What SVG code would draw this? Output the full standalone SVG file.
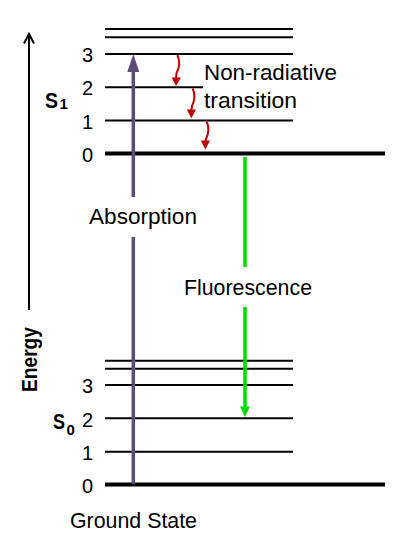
<svg xmlns="http://www.w3.org/2000/svg" width="396" height="548" viewBox="0 0 396 548">
<style>
.t{font-family:"Liberation Sans",Arial,sans-serif;font-size:22px;fill:#000}
.n{font-family:"Liberation Sans",Arial,sans-serif;font-size:20px;fill:#000;text-anchor:end}
.b{font-family:"Liberation Sans",Arial,sans-serif;font-weight:bold;fill:#000}
.lv{stroke:#000;stroke-width:2;fill:none}
.lt{stroke:#000;stroke-width:4;fill:none}
.red{stroke:#C00000;stroke-width:2;fill:none}
</style>
<rect width="396" height="548" fill="#fff"/>
<g id="energy-axis">
  <line x1="29" y1="34" x2="29" y2="310" stroke="#000" stroke-width="2"/>
  <polyline points="24,43.5 29,34 34,43.5" stroke="#000" stroke-width="2" fill="none"/>
  <text class="b" font-size="22" transform="translate(36.5,392) rotate(-90)" textLength="65" lengthAdjust="spacingAndGlyphs">Energy</text>
</g>
<g id="S1">
  <line class="lv" x1="105" y1="29" x2="293" y2="29"/>
  <line class="lv" x1="105" y1="37.3" x2="293" y2="37.3"/>
  <line class="lv" x1="105" y1="54" x2="293" y2="54"/>
  <line class="lv" x1="105" y1="87.3" x2="203" y2="87.3"/>
  <line class="lv" x1="105" y1="120.5" x2="293" y2="120.5"/>
  <line class="lt" x1="105" y1="153.5" x2="385" y2="153.5"/>
  <text class="n" x="93" y="62">3</text>
  <text class="n" x="93" y="95.3">2</text>
  <text class="n" x="93" y="128.5">1</text>
  <text class="n" x="93" y="162">0</text>
  <text class="b" font-size="22" x="45" y="107.5" textLength="13" lengthAdjust="spacingAndGlyphs">S</text>
  <text class="b" font-size="15" x="59.5" y="108.5" font-weight="normal">1</text>
</g>
<g id="S0">
  <line class="lv" x1="105" y1="360.7" x2="293" y2="360.7"/>
  <line class="lv" x1="105" y1="368.7" x2="293" y2="368.7"/>
  <line class="lv" x1="105" y1="385" x2="293" y2="385"/>
  <line class="lv" x1="105" y1="418.3" x2="293" y2="418.3"/>
  <line class="lv" x1="105" y1="451.7" x2="293" y2="451.7"/>
  <line class="lt" x1="105" y1="484.5" x2="385" y2="484.5"/>
  <text class="n" x="93" y="393">3</text>
  <text class="n" x="93" y="426.5">2</text>
  <text class="n" x="93" y="459.5">1</text>
  <text class="n" x="93" y="492.5">0</text>
  <text class="b" font-size="22" x="53" y="428.5" textLength="12" lengthAdjust="spacingAndGlyphs">S</text>
  <text class="b" font-size="15" x="66.5" y="435" font-weight="normal">0</text>
</g>
<g id="connectors">
  <g id="absorption">
    <line x1="133.3" y1="484" x2="133.3" y2="237" stroke="#604A7B" stroke-width="3.5"/>
    <line x1="133.3" y1="197" x2="133.3" y2="70" stroke="#604A7B" stroke-width="3.5"/>
    <polygon points="133.3,54 139.3,72 127.3,72" fill="#604A7B"/>
  </g>
  <g id="fluorescence">
    <line x1="245" y1="157" x2="245" y2="267" stroke="#00DD00" stroke-width="3.5"/>
    <line x1="245" y1="307" x2="245" y2="408" stroke="#00DD00" stroke-width="3.5"/>
    <polygon points="240,406.5 250,406.5 245,417" fill="#00DD00"/>
  </g>
  <g id="nonrad">
    <path class="red" d="M177.3,55 C180.5,62 179.5,68 176.5,73 L176,79"/>
    <polygon points="171.7,77.5 181,77.5 176,86" fill="#C00000"/>
    <path class="red" d="M192.7,88.5 C195.5,95 194.5,101 192,106 L191.3,111"/>
    <polygon points="186.8,109.5 196,109.5 191.3,118.3" fill="#C00000"/>
    <path class="red" d="M206.7,121.5 C209.5,128 208.5,134 206,139 L205.3,142"/>
    <polygon points="200.8,140.5 210,140.5 205.3,149.5" fill="#C00000"/>
  </g>
</g>
<g id="labels">
  <text class="t" x="89" y="224" textLength="108" lengthAdjust="spacingAndGlyphs">Absorption</text>
  <text class="t" x="184" y="295" textLength="128" lengthAdjust="spacingAndGlyphs">Fluorescence</text>
  <text class="t" x="204" y="80" textLength="133" lengthAdjust="spacingAndGlyphs">Non-radiative</text>
  <text class="t" x="204" y="108" textLength="93" lengthAdjust="spacingAndGlyphs">transition</text>
  <text class="t" x="70" y="528" textLength="127" lengthAdjust="spacingAndGlyphs">Ground State</text>
</g>
</svg>
